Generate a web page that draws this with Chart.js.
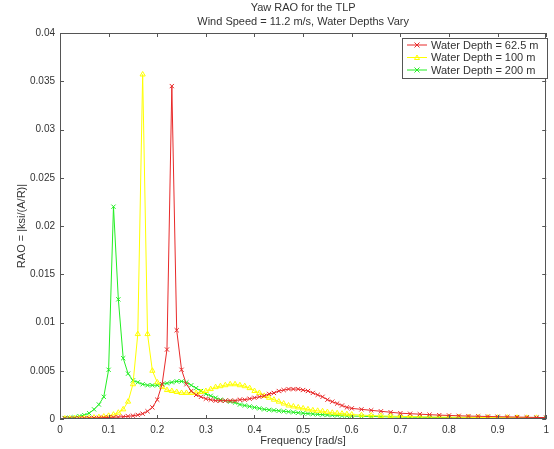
<!DOCTYPE html>
<html>
<head>
<meta charset="utf-8">
<script src="https://cdn.jsdelivr.net/npm/chart.js@4.4.1/dist/chart.umd.min.js"></script>
<style>
  html, body { margin: 0; padding: 0; background: #fff; }
  #wrap { width: 554px; height: 449px; }
</style>
</head>
<body>
<div id="wrap"><canvas id="raoChart" width="554" height="449"></canvas></div>
<script>
// Frequencies [rad/s]
const freqs = [
  0.01, 0.02, 0.03, 0.04, 0.05, 0.06, 0.07, 0.08, 0.09, 0.10,
  0.11, 0.12, 0.13, 0.14, 0.15, 0.16, 0.17, 0.18, 0.19, 0.20,
  0.21, 0.22, 0.23, 0.24, 0.25, 0.26, 0.27, 0.28, 0.29, 0.30,
  0.31, 0.32, 0.33, 0.34, 0.35, 0.36, 0.37, 0.38, 0.39, 0.40,
  0.41, 0.42, 0.43, 0.44, 0.45, 0.46, 0.47, 0.48, 0.49, 0.50,
  0.51, 0.52, 0.53, 0.54, 0.55, 0.56, 0.57, 0.58, 0.59, 0.60,
  0.62, 0.64, 0.66, 0.68, 0.70, 0.72, 0.74, 0.76, 0.78, 0.80,
  0.82, 0.84, 0.86, 0.88, 0.90, 0.92, 0.94, 0.96, 0.98, 1.00
];

// Water depth 62.5 m
const depth62 = [
  0.00005, 0.00005, 0.00006, 0.00007, 0.00008, 0.00009, 0.0001, 0.00012, 0.00014, 0.00016,
  0.00018, 0.0002, 0.00024, 0.00028, 0.00034, 0.00042, 0.00055, 0.0008, 0.0012, 0.0020,
  0.0036, 0.0072, 0.0345, 0.0092, 0.0051, 0.0036, 0.0029, 0.0025, 0.0023, 0.0021,
  0.0020, 0.0019, 0.0019, 0.0019, 0.0019, 0.0019, 0.0020, 0.0020, 0.0021, 0.0022,
  0.0023, 0.0024, 0.0026, 0.0027, 0.0029, 0.0030, 0.0031, 0.0031, 0.0031, 0.0030,
  0.0029, 0.0027, 0.0025, 0.0023, 0.0020, 0.0018, 0.0016, 0.0014, 0.0012, 0.0011,
  0.0010, 0.0009, 0.0008, 0.0007, 0.0006, 0.00055, 0.0005, 0.00045, 0.0004, 0.00037,
  0.00033, 0.0003, 0.00028, 0.00026, 0.00024, 0.00022, 0.0002, 0.00018, 0.00016, 0.00015
];

// Water depth 100 m
const depth100 = [
  0.00005, 0.00006, 0.00007, 0.00008, 0.0001, 0.00012, 0.00015, 0.00019, 0.00025, 0.00033,
  0.00045, 0.00065, 0.0010, 0.0018, 0.0036, 0.0088, 0.0357, 0.0088, 0.0050, 0.0038,
  0.0033, 0.0030, 0.0029, 0.0028, 0.0027, 0.0027, 0.0027, 0.0027, 0.0028, 0.0029,
  0.0031, 0.0033, 0.0034, 0.0035, 0.0036, 0.0036, 0.0035, 0.0034, 0.0032, 0.0029,
  0.0027, 0.0024, 0.0022, 0.0020, 0.0018, 0.0016, 0.0014, 0.0013, 0.0012, 0.0011,
  0.0010, 0.0009, 0.00085, 0.0008, 0.00072, 0.00065, 0.0006, 0.00055, 0.0005, 0.00046,
  0.0004, 0.00036, 0.00032, 0.0003, 0.00027, 0.00025, 0.00023, 0.00021, 0.0002, 0.00019,
  0.00018, 0.00017, 0.00016, 0.00015, 0.00014, 0.00014, 0.00013, 0.00012, 0.00012, 0.00011
];

// Water depth 200 m
const depth200 = [
  0.0001, 0.00012, 0.00018, 0.0003, 0.0004, 0.0006, 0.0010, 0.0015, 0.0023, 0.0051,
  0.0220, 0.0124, 0.0063, 0.0047, 0.0040, 0.0038, 0.0036, 0.0035, 0.0035, 0.0035,
  0.0036, 0.0037, 0.0038, 0.0039, 0.0039, 0.0038, 0.0035, 0.0032, 0.0029, 0.0026,
  0.0024, 0.0022, 0.0020, 0.0019, 0.0018, 0.0017, 0.0015, 0.0014, 0.0013, 0.0012,
  0.0011, 0.0010, 0.00095, 0.0009, 0.00085, 0.0008, 0.00075, 0.0007, 0.00065, 0.0006,
  0.00056, 0.00052, 0.00048, 0.00045, 0.00042, 0.0004, 0.00037, 0.00035, 0.00033, 0.00031,
  0.00028, 0.00026, 0.00024, 0.00022, 0.0002, 0.00019, 0.00018, 0.00017, 0.00016, 0.00015,
  0.00014, 0.00013, 0.00013, 0.00012, 0.00012, 0.00011, 0.00011, 0.0001, 0.0001, 0.0001
];

const xTicks = [0, 0.1, 0.2, 0.3, 0.4, 0.5, 0.6, 0.7, 0.8, 0.9, 1];
const yTicks = [0, 0.005, 0.01, 0.015, 0.02, 0.025, 0.03, 0.035, 0.04];
const titleLines = ['Yaw RAO for the TLP', 'Wind Speed = 11.2 m/s, Water Depths Vary'];

const FONT = "'Liberation Sans', Arial, sans-serif";
const INK = '#333';

function toPoints(ys) {
  return freqs.map((f, i) => ({ x: f, y: ys[i] }));
}

// Draw a MATLAB-like marker by hand (used for the legend samples)
function marker(ctx, style, cx, cy, r) {
  ctx.beginPath();
  if (style === 'triangle') {
    ctx.moveTo(cx, cy - r);
    ctx.lineTo(cx + r, cy + r * 0.8);
    ctx.lineTo(cx - r, cy + r * 0.8);
    ctx.closePath();
  } else {
    ctx.moveTo(cx - r, cy - r); ctx.lineTo(cx + r, cy + r);
    ctx.moveTo(cx + r, cy - r); ctx.lineTo(cx - r, cy + r);
  }
  ctx.stroke();
}

// Title, axes box with inward ticks, legend box in the upper right
const framePlugin = {
  id: 'frame',
  afterDatasetsDraw(chart) {
    const { ctx, chartArea: a, scales: { x, y } } = chart;
    ctx.save();

    // title
    ctx.fillStyle = INK;
    ctx.font = '11px ' + FONT;
    ctx.textAlign = 'center';
    ctx.textBaseline = 'middle';
    const cx = (a.left + a.right) / 2;
    ctx.fillText(titleLines[0], cx, 8);
    ctx.fillText(titleLines[1], cx, 21.5);

    // box
    ctx.strokeStyle = '#555';
    ctx.lineWidth = 1;
    ctx.strokeRect(Math.round(a.left) + 0.5, Math.round(a.top) + 0.5,
      Math.round(a.width) - 1, Math.round(a.height) - 1);

    // ticks
    ctx.beginPath();
    xTicks.forEach(v => {
      const px = Math.round(x.getPixelForValue(v)) + 0.5;
      ctx.moveTo(px, a.bottom); ctx.lineTo(px, a.bottom - 4);
      ctx.moveTo(px, a.top); ctx.lineTo(px, a.top + 4);
    });
    yTicks.forEach(v => {
      const py = Math.round(y.getPixelForValue(v)) + 0.5;
      ctx.moveTo(a.left, py); ctx.lineTo(a.left + 4, py);
      ctx.moveTo(a.right, py); ctx.lineTo(a.right - 4, py);
    });
    ctx.stroke();

    // legend
    const lx = 402, ly = 38, lw = 145, lh = 40;
    ctx.fillStyle = '#fff';
    ctx.fillRect(lx, ly, lw, lh);
    ctx.strokeStyle = '#555';
    ctx.strokeRect(lx + 0.5, ly + 0.5, lw, lh);
    ctx.font = '11px ' + FONT;
    ctx.textAlign = 'left';
    chart.data.datasets.forEach((ds, i) => {
      const ry = ly + 7 + i * 12.5;
      ctx.strokeStyle = ds.borderColor;
      ctx.beginPath();
      ctx.moveTo(lx + 5, ry); ctx.lineTo(lx + 25, ry);
      ctx.stroke();
      marker(ctx, ds.pointStyle, lx + 15, ry, 2.5);
      ctx.fillStyle = INK;
      ctx.fillText(ds.label, lx + 29, ry + 0.5);
    });

    ctx.restore();
  }
};

const sets = [
  { label: 'Water Depth = 62.5 m', values: depth62, color: '#e82a2a', style: 'crossRot' },
  { label: 'Water Depth = 100 m', values: depth100, color: '#ffff00', style: 'triangle' },
  { label: 'Water Depth = 200 m', values: depth200, color: '#22ee22', style: 'crossRot' }
];

new Chart(document.getElementById('raoChart'), {
  type: 'line',
  data: {
    datasets: sets.map(s => ({
      label: s.label,
      data: toPoints(s.values),
      borderColor: s.color,
      backgroundColor: 'rgba(0,0,0,0)',
      borderWidth: 1,
      pointStyle: s.style,
      pointRadius: 3,
      pointBorderWidth: 1,
      pointBorderColor: s.color,
      pointBackgroundColor: 'rgba(0,0,0,0)',
      tension: 0,
      fill: false
    }))
  },
  options: {
    responsive: false,
    animation: false,
    devicePixelRatio: 1,
    layout: { padding: { top: 33, right: 4, left: 0, bottom: 0 } },
    plugins: { legend: { display: false }, title: { display: false }, tooltip: { enabled: false } },
    scales: {
      x: {
        type: 'linear',
        min: 0, max: 1,
        afterBuildTicks: s => { s.ticks = xTicks.map(v => ({ value: v })); },
        afterFit: s => { s.height = 30; },
        grid: { display: false, drawTicks: false },
        border: { display: false },
        ticks: { color: INK, font: { family: FONT, size: 10 }, padding: 5, maxRotation: 0,
          callback: v => String(v) },
        title: { display: true, text: 'Frequency [rad/s]', color: INK,
          font: { family: FONT, size: 11 }, padding: { top: 0, bottom: 1 } }
      },
      y: {
        type: 'linear',
        min: 0, max: 0.04,
        afterBuildTicks: s => { s.ticks = yTicks.map(v => ({ value: v })); },
        afterFit: s => { s.width = 60; },
        grid: { display: false, drawTicks: false },
        border: { display: false },
        ticks: { color: INK, font: { family: FONT, size: 10 }, padding: 5,
          callback: v => String(v) },
        title: { display: true, text: 'RAO = |ksi/(A/R)|', color: INK,
          font: { family: FONT, size: 11 }, padding: { top: 15, bottom: 0 } }
      }
    }
  },
  plugins: [framePlugin]
});
</script>
</body>
</html>
